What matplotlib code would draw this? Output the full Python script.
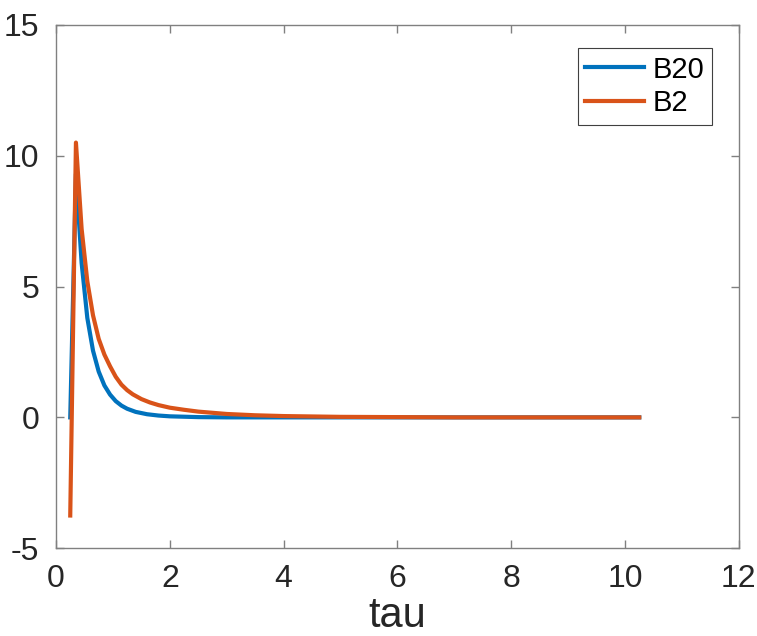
import matplotlib
matplotlib.use("Agg")
import matplotlib.pyplot as plt

plt.rcParams['font.family'] = ['Liberation Sans Narrow', 'Liberation Sans', 'DejaVu Sans']
plt.rcParams['axes.unicode_minus'] = False

# values
tau_b20 = [0.25, 0.35, 0.45, 0.55, 0.65, 0.75, 0.85, 0.95, 1.05, 1.15, 1.25,
           1.4, 1.6, 1.8, 2.0, 2.5, 3.0, 10.25]
b20 = [0.0, 9.3, 5.9, 3.8, 2.55, 1.75, 1.22, 0.87, 0.62, 0.45, 0.33,
       0.21, 0.12, 0.07, 0.04, 0.01, 0.0, 0.0]

tau_b2 = [0.25, 0.35, 0.45, 0.55, 0.65, 0.75, 0.85, 0.95, 1.05, 1.15, 1.25,
          1.35, 1.5, 1.65, 1.8, 2.0, 2.25, 2.5, 3.0, 3.5, 4.0, 5.0, 6.0, 7.0, 10.25]
b2 = [-3.75, 10.5, 7.2, 5.2, 3.9, 3.0, 2.4, 1.95, 1.55, 1.25, 1.04,
      0.88, 0.7, 0.57, 0.47, 0.37, 0.29, 0.22, 0.13, 0.08, 0.05, 0.02, 0.01, 0.0, 0.0]

fig = plt.figure(figsize=(7.57, 6.36), dpi=100)
ax = fig.add_axes([0.074, 0.138, 0.902, 0.823])

ax.plot(tau_b20, b20, color="#0072BD", linewidth=3, label="B20")
ax.plot(tau_b2, b2, color="#D95319", linewidth=3, label="B2")

ax.set_xlim(0, 12)
ax.set_ylim(-5, 15)
ax.set_xticks(range(0, 13, 2))
ax.set_yticks([-5, 0, 5, 10, 15])

for s in ax.spines.values():
    s.set_color("#808080")
    s.set_linewidth(1)
ax.tick_params(direction="in", length=6, width=1, color="#808080",
               labelsize=23, labelcolor="#262626", top=True, right=True)
ax.tick_params(axis="x", pad=11)
ax.tick_params(axis="y", pad=12)

ax.set_xlabel("tau", fontsize=30, color="#262626")
ax.xaxis.set_label_coords(0.5, -0.092)

leg = ax.legend(loc="upper right", bbox_to_anchor=(0.96, 0.955), fontsize=21,
                fancybox=False, framealpha=1, edgecolor="#404040",
                handlelength=2.0, borderpad=0.25, labelspacing=0.2,
                handletextpad=0.3, borderaxespad=0)
leg.get_frame().set_linewidth(0.8)

fig.savefig("out.png", dpi=100)
